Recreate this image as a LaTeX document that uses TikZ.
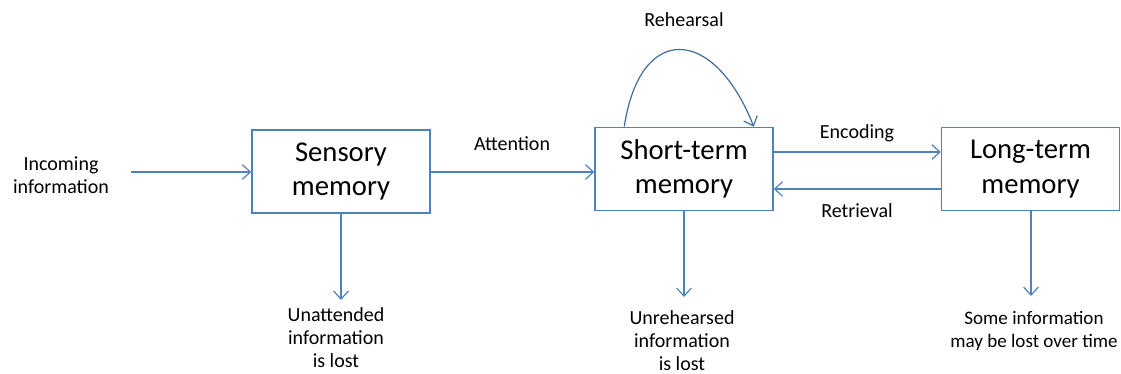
\documentclass[tikz,border=0pt]{standalone}
\usepackage{fontspec}
\setmainfont{Carlito}
\usetikzlibrary{arrows.meta}
\definecolor{boxblue}{RGB}{79,129,189}
\definecolor{curveblue}{RGB}{65,108,160}

\begin{document}
\begin{tikzpicture}[x=0.75pt,y=-0.75pt,
		memory/.style={draw=boxblue,line width=1.1pt,minimum width=133.5pt,minimum height=62.5pt,align=center,inner sep=0pt,font=\fontsize{21.5}{26}\selectfont},
		lbl/.style={align=center,inner sep=0pt,font=\fontsize{15}{17.3}\selectfont},
		flow/.style={draw=boxblue,line width=0.9pt,-{Straight Barb[length=6pt,width=11pt]}}]
		\useasboundingbox (0,0) rectangle (1121,374);
		\node[memory] (sens) at (341,171.5) {Sensory\\memory};
		\node[memory] (stm) at (684,169) {Short-term\\memory};
		\node[memory] (ltm) at (1030.5,169) {Long-term\\memory};
		\node[lbl] (incoming) at (61,175) {Incoming\\information};
		\node[lbl] (att) at (512,144) {Attention};
		\node[lbl] (reh) at (684,20) {Rehearsal};
		\node[lbl] (enc) at (857,133) {Encoding};
		\node[lbl] (ret) at (857,211) {Retrieval};
		\node[lbl] (lost1) at (336,338) {Unattended\\information\\is lost};
		\node[lbl] (lost2) at (682,341) {Unrehearsed\\information\\is lost};
		\node[lbl,font=\fontsize{14.3}{17.3}\selectfont] (lost3) at (1034,331) {Some information\\may be lost over time};
		\coordinate (in) at (131,172);
		\coordinate (d1) at (341,300);
		\coordinate (d2) at (684,297);
		\coordinate (d3) at (1031,296);
		\draw[flow] (in) -- (in -| sens.west);
		\draw[flow] (sens.east |- in) -- (in -| stm.west);
		\draw[flow] ([yshift=12.75pt]stm.east) -- ([yshift=12.75pt]ltm.west);
		\draw[flow] ([yshift=-15pt]ltm.west) -- ([yshift=-15pt]stm.east);
		\draw[draw=curveblue,line width=0.9pt,-{Straight Barb[length=6pt,width=11pt]}] ([xshift=22.5pt]stm.north west) .. controls (640,22) and (714,26) .. ([xshift=-15pt]stm.north east);
		\draw[flow] (sens.south) -- (d1);
		\draw[flow] (stm.south) -- (d2);
		\draw[flow] (ltm.south -| d3) -- (d3);
	\end{tikzpicture}
\end{document}
